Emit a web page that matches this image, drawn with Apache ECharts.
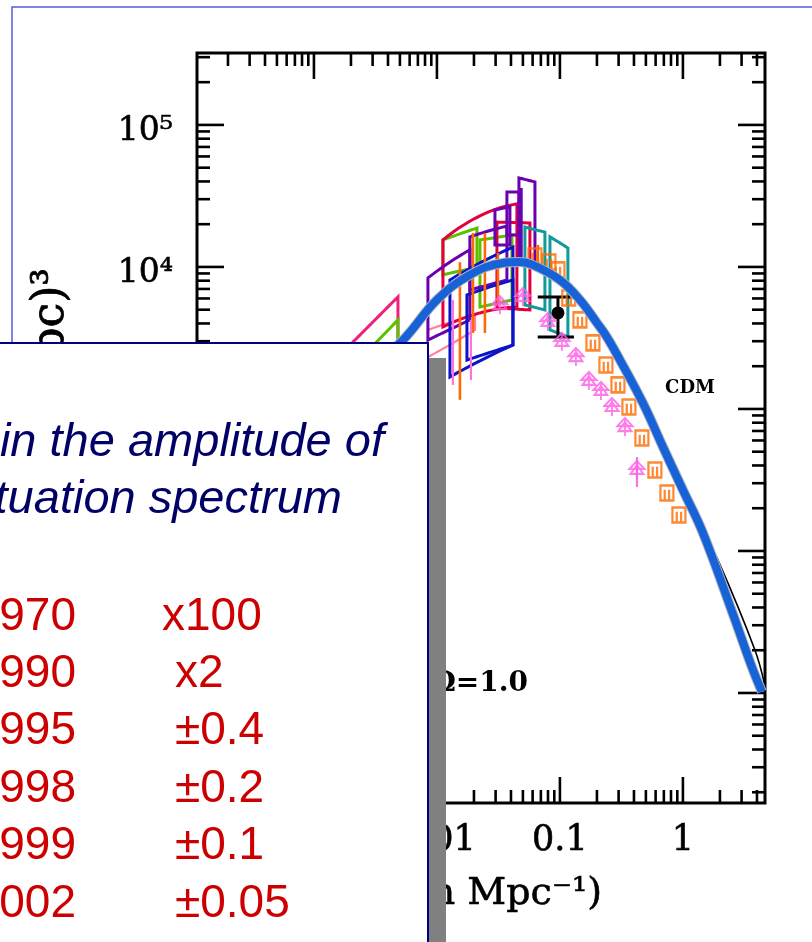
<!DOCTYPE html>
<html><head><meta charset="utf-8">
<script src="https://cdn.jsdelivr.net/npm/echarts@6/dist/echarts.min.js"></script>
<style>html,body{margin:0;padding:0;background:#fff;overflow:hidden}#c{width:812px;height:942px}</style>
</head><body><div id="c"></div>
<script>
// ---------- axis ranges & tick labels ----------
const xRange = [1.12e-4, 4.65];
const yRange = [1.68, 3.21e5];
const xMajorTicks = [0.001, 0.01, 0.1, 1];
const yMajorTicks = [10, 100, 1000, 10000, 100000];
const xLabelValues = [0.01, 0.1, 1];
const xLabelTexts = ['0.01', '0.1', '1'];
const yLabelValues = [10, 100, 1000, 10000, 100000];
const yLabelTexts = ['10¹', '10²', '10³', '10⁴', '10⁵'];

// ---------- CDM model curve ----------
const cdmCurve = [[0.003,2000],[0.0053,3060],[0.01,5860],[0.0185,8790],[0.0344,10670],[0.0473,10840],[0.0603,10330],[0.1,8090],[0.1455,5860],[0.2,4040],[0.241,3210],[0.308,2210],[0.473,1100],[0.688,540],[1,269],[1.455,134],[2.6,34.3],[3.64,15.2],[4.39,10.2]];
const cdmOriginal = [[0.1,8090],[0.2,4040],[0.473,1100],[1,269],[1.455,136],[1.925,86.5],[3.85,20.1],[4.6,11.6]];

// ---------- survey window boxes: [kLeft, kRight, topL, topMid, topR, botL, botMid, botR] ----------
const boxesMagenta = [[0.00135,0.00482,2040,3540,6150,837,985,1160]];
const boxesLightPink = [[0.00845,0.0204,3600,4100,4590,2320,2870,3600]];
const boxesGreen = [[0.00163,0.00482,1600,2605,4240,711,836,984],[0.01119,0.02115,15500,17100,18800,8790,9370,9840],[0.02238,0.04074,15500,16100,16800,5230,5530,5860]];
const boxesCrimson = [[0.01119,0.0447,15500,22900,27800,3780,4745,5230],[0.03076,0.05702,20700,20550,20400,5140,5060,4980]];
const boxesPurple = [[0.04645,0.06266,42400,41000,39700,10800,10800,10800],[0.03707,0.04645,33700,33700,33700,16800,16800,16800],[0.02963,0.03921,25200,25850,26500,14300,14300,14300],[0.01854,0.03707,16300,17900,19400,6890,7470,8100],[0.00845,0.01854,8370,10700,13200,3060,3600,4240]];
const boxesBlue = [[0.01276,0.0415,8100,10800,13800,1680,2210,2820],[0.01754,0.0415,6350,7230,8100,2210,2500,2820]];
const boxesTeal = [[0.05192,0.07551,19100,18300,17600,5400,5190,4980],[0.08299,0.1161,16300,14900,13600,3600,3400,3210]];

// ---------- error bars [k, Plow, Phigh] ----------
const orangeBars = [[0.01538,1160,10800],[0.01963,3430,17300],[0.02455,3430,17300],[0.03133,5570,12550],[0.0662,9230,14300]];
const pinkBars = [[0.423,282,459],[0.01349,1477,5860],[0.0189,1600,4240]];
const purpleBars = [[0.048,11000,36000]];

// ---------- points ----------
const orangeSquares = [[0.0627,11950],[0.0814,10840],[0.0964,9530],[0.118,6050],[0.1455,4240],[0.1855,2920],[0.2366,2040],[0.2963,1477],[0.364,1032],[0.464,625],[0.592,372],[0.741,256],[0.928,179]];
const pinkTriangles = [[0.0325,5390],[0.05,6150],[0.0798,4100],[0.1038,2970],[0.135,2320],[0.172,1575],[0.2155,1340],[0.265,1032],[0.338,746],[0.423,372]];
// [k, P, Plow, Phigh, kLow, kHigh]
const blackPoint = [[0.0964,4745,3210,6150,0.066,0.13]];

// ---------- overlay text ----------
const noteLines = ['in the amplitude of', 'fluctuation spectrum'];
const years = ['1970','1990','1995','1998','1999','2002'];
const accuracy = ['x100','x2','±0.4','±0.2','±0.1','±0.05'];

// minor ticks (axis decoration)
function minorTicks(lo, hi, d0, d1) {
  const out = [];
  for (let d = d0; d <= d1; d++) for (let m = 2; m <= 9; m++) {
    const v = m * Math.pow(10, d);
    if (v > lo && v < hi) out.push(v);
  }
  return out;
}
const xMinor = minorTicks(xRange[0], xRange[1], -4, 0);
const yMinor = minorTicks(yRange[0], yRange[1], 0, 5);

const chart = echarts.init(document.getElementById('c'));
const L10 = Math.log10;

function boxSeries(data, color, lw) {
  return {
    type: 'custom', data: data, encode: {x: 0, y: 2}, z: 3, clip: true,
    renderItem: function (params, api) {
      const kL = api.value(0), kR = api.value(1);
      const t = [api.value(2), api.value(3), api.value(4)];
      const b = [api.value(5), api.value(6), api.value(7)];
      const q = (a, s) => Math.pow(10, L10(a[0]) * (1 - s) * (1 - 2 * s) + L10(a[1]) * 4 * s * (1 - s) + L10(a[2]) * s * (2 * s - 1));
      const kk = s => Math.pow(10, L10(kL) + (L10(kR) - L10(kL)) * s);
      const pts = [], N = 14;
      for (let i = 0; i <= N; i++) { const s = i / N; pts.push(api.coord([kk(s), q(t, s)])); }
      for (let i = N; i >= 0; i--) { const s = i / N; pts.push(api.coord([kk(s), q(b, s)])); }
      return {type: 'polygon', shape: {points: pts}, style: {fill: 'transparent', stroke: color, lineWidth: lw || 3}};
    }
  };
}
function barSeries(data, color, lw) {
  return {
    type: 'custom', data: data, encode: {x: 0, y: 1}, z: 3,
    renderItem: function (params, api) {
      const a = api.coord([api.value(0), api.value(1)]);
      const b = api.coord([api.value(0), api.value(2)]);
      return {type: 'line', shape: {x1: a[0], y1: a[1], x2: b[0], y2: b[1]}, style: {stroke: color, lineWidth: lw}};
    }
  };
}
const tickStyle = {stroke: '#000', lineWidth: 2.6};

const serif = '"DejaVu Serif", "Liberation Serif", serif';
const sans = '"Liberation Sans", Arial, sans-serif';

const graphicEls = [
  {type: 'rect', z: 1, silent: true, shape: {x: 12, y: 7, width: 820, height: 1000}, style: {fill: 'transparent', stroke: '#5858e8', lineWidth: 1.5}},
  {type: 'text', z: 10, x: 52, y: 268, rotation: Math.PI / 2, style: {text: 'P(k)  (h⁻¹ Mpc)³', font: '44px ' + serif, fill: '#000', stroke: '#000', lineWidth: 0.8, align: 'right', textAlign: 'right', verticalAlign: 'middle', textVerticalAlign: 'middle'}},
  {type: 'text', z: 10, x: 602, y: 894, style: {text: 'k  (h Mpc⁻¹)', font: '38px ' + serif, fill: '#000', stroke: '#000', lineWidth: 0.6, align: 'right', textAlign: 'right', verticalAlign: 'middle', textVerticalAlign: 'middle'}},
  {type: 'text', z: 10, x: 690, y: 388, style: {text: 'CDM', font: 'bold 18px ' + serif, fill: '#000', align: 'center', textAlign: 'center', verticalAlign: 'middle', textVerticalAlign: 'middle'}},
  {type: 'text', z: 10, x: 528, y: 684, style: {text: 'Ω=1.0', font: 'bold 28px ' + serif, fill: '#000', align: 'right', textAlign: 'right', verticalAlign: 'middle', textVerticalAlign: 'middle'}},
  // overlay panel
  {type: 'rect', z: 100, silent: true, shape: {x: 20, y: 358, width: 426, height: 700}, style: {fill: '#808080'}},
  {type: 'rect', z: 101, silent: true, shape: {x: -5, y: 343, width: 433, height: 700}, style: {fill: '#ffffff', stroke: '#000080', lineWidth: 2}},
  {type: 'text', z: 102, x: 384, y: 443, style: {text: noteLines[0], font: 'italic 47px ' + sans, fill: '#000066', align: 'right', textAlign: 'right', verticalAlign: 'middle', textVerticalAlign: 'middle'}},
  {type: 'text', z: 102, x: 342, y: 500, style: {text: noteLines[1], font: 'italic 47px ' + sans, fill: '#000066', align: 'right', textAlign: 'right', verticalAlign: 'middle', textVerticalAlign: 'middle'}}
];
const rowBase = [632, 689, 746, 804, 861, 919];
years.forEach((yr, i) => {
  graphicEls.push({type: 'text', z: 102, x: 76, y: rowBase[i] - 15, style: {text: yr, font: '46px ' + sans, fill: '#cc0000', align: 'right', textAlign: 'right', verticalAlign: 'middle', textVerticalAlign: 'middle'}});
  graphicEls.push({type: 'text', z: 102, x: i === 0 ? 162 : 175, y: rowBase[i] - 15, style: {text: accuracy[i], font: '46px ' + sans, fill: '#cc0000', align: 'left', textAlign: 'left', verticalAlign: 'middle', textVerticalAlign: 'middle'}});
});

const option = {
  animation: false,
  backgroundColor: '#ffffff',
  grid: {left: 197, top: 53, width: 568, height: 750, show: true, borderColor: '#000', borderWidth: 3, backgroundColor: 'transparent', outerBoundsMode: 'none'},
  xAxis: {type: 'log', logBase: 10, min: xRange[0], max: xRange[1], axisLine: {show: false}, axisTick: {show: false}, axisLabel: {show: false}, splitLine: {show: false}},
  yAxis: {type: 'log', logBase: 10, min: yRange[0], max: yRange[1], axisLine: {show: false}, axisTick: {show: false}, axisLabel: {show: false}, splitLine: {show: false}},
  graphic: {elements: graphicEls},
  series: [
    // x ticks (top & bottom)
    {type: 'custom', z: 6, clip: false, encode: {x: 0, y: 1},
      data: xMajorTicks.map(v => [v, 10, 1]).concat(xMinor.map(v => [v, 10, 0])),
      renderItem: function (params, api) {
        const cs = params.coordSys, x = api.coord([api.value(0), 10])[0], len = api.value(2) ? 26 : 13;
        return {type: 'group', children: [
          {type: 'line', shape: {x1: x, y1: cs.y + cs.height, x2: x, y2: cs.y + cs.height - len}, style: tickStyle},
          {type: 'line', shape: {x1: x, y1: cs.y, x2: x, y2: cs.y + len}, style: tickStyle}]};
      }},
    // y ticks (left & right)
    {type: 'custom', z: 6, clip: false, encode: {x: 0, y: 1},
      data: yMajorTicks.map(v => [0.01, v, 1]).concat(yMinor.map(v => [0.01, v, 0])),
      renderItem: function (params, api) {
        const cs = params.coordSys, y = api.coord([0.01, api.value(1)])[1], len = api.value(2) ? 27 : 13;
        return {type: 'group', children: [
          {type: 'line', shape: {x1: cs.x, y1: y, x2: cs.x + len, y2: y}, style: tickStyle},
          {type: 'line', shape: {x1: cs.x + cs.width, y1: y, x2: cs.x + cs.width - len, y2: y}, style: tickStyle}]};
      }},
    // x tick labels
    {type: 'custom', z: 6, clip: false, encode: {x: 0, y: 1},
      data: xLabelValues.map((v, i) => [v, 10, i]),
      renderItem: function (params, api) {
        const cs = params.coordSys, x = api.coord([api.value(0), 10])[0];
        return {type: 'text', style: {text: xLabelTexts[api.value(2)], x: x, y: cs.y + cs.height + 38, font: '35px ' + serif, fill: '#000', stroke: '#000', lineWidth: 0.6, align: 'center', textAlign: 'center', verticalAlign: 'middle', textVerticalAlign: 'middle'}};
      }},
    // y tick labels
    {type: 'custom', z: 6, clip: false, encode: {x: 0, y: 1},
      data: yLabelValues.map((v, i) => [0.01, v, i]),
      renderItem: function (params, api) {
        const cs = params.coordSys, y = api.coord([0.01, api.value(1)])[1];
        return {type: 'text', style: {text: yLabelTexts[api.value(2)], x: cs.x - 24, y: y + 6, font: '33px ' + serif, fill: '#000', stroke: '#000', lineWidth: 0.6, align: 'right', textAlign: 'right', verticalAlign: 'middle', textVerticalAlign: 'middle'}};
      }},
    boxSeries(boxesMagenta, '#f0207a'),
    boxSeries(boxesLightPink, '#ff80a0', 2.2),
    boxSeries(boxesGreen, '#5cc000'),
    boxSeries(boxesCrimson, '#e4003c'),
    boxSeries(boxesPurple, '#6a00b0'),
    boxSeries(boxesBlue, '#0c14c8'),
    boxSeries(boxesTeal, '#129a9a'),
    barSeries(orangeBars, '#ff6a00', 2.6),
    barSeries(pinkBars, '#ff70e0', 2.2),
    barSeries(purpleBars, '#6a00b0', 4),
    {type: 'scatter', z: 4, data: orangeSquares, symbol: 'path://M0,0L12,0L12,14L0,14ZM4,4L4,14M8,4L8,14', symbolSize: [13, 15],
      itemStyle: {color: 'rgba(0,0,0,0)', borderColor: '#ff6a00', borderWidth: 2.4}},
    {type: 'scatter', z: 4, data: pinkTriangles, symbol: 'path://M7,0L14,8L0,8ZM7,4L13,13L1,13ZM7,0L7,18', symbolSize: [15, 18],
      itemStyle: {color: 'rgba(0,0,0,0)', borderColor: '#ff5ce6', borderWidth: 2}},
    {type: 'custom', z: 4, data: blackPoint, encode: {x: 0, y: 1},
      renderItem: function (params, api) {
        const c = api.coord([api.value(0), api.value(1)]);
        const lo = api.coord([api.value(0), api.value(2)]), hi = api.coord([api.value(0), api.value(3)]);
        const kl = api.coord([api.value(4), api.value(2)])[0], kh = api.coord([api.value(5), api.value(2)])[0];
        const st = {stroke: '#000', lineWidth: 3};
        return {type: 'group', children: [
          {type: 'line', shape: {x1: lo[0], y1: lo[1], x2: hi[0], y2: hi[1]}, style: st},
          {type: 'line', shape: {x1: kl, y1: lo[1], x2: kh, y2: lo[1]}, style: st},
          {type: 'line', shape: {x1: kl, y1: hi[1], x2: kh, y2: hi[1]}, style: st},
          {type: 'circle', shape: {cx: c[0], cy: c[1], r: 6.5}, style: {fill: '#000'}}]};
      }},
    {type: 'line', z: 5, data: cdmOriginal, smooth: 0.4, showSymbol: false, lineStyle: {color: '#000', width: 1.6}},
    {type: 'line', z: 6, data: cdmCurve, smooth: 0.4, showSymbol: false, lineStyle: {color: '#a9b1c2', width: 10}},
    {type: 'line', z: 7, data: cdmCurve, smooth: 0.4, showSymbol: false, lineStyle: {color: '#1762d6', width: 8}}
  ]
};
chart.setOption(option);
</script>
</body></html>
